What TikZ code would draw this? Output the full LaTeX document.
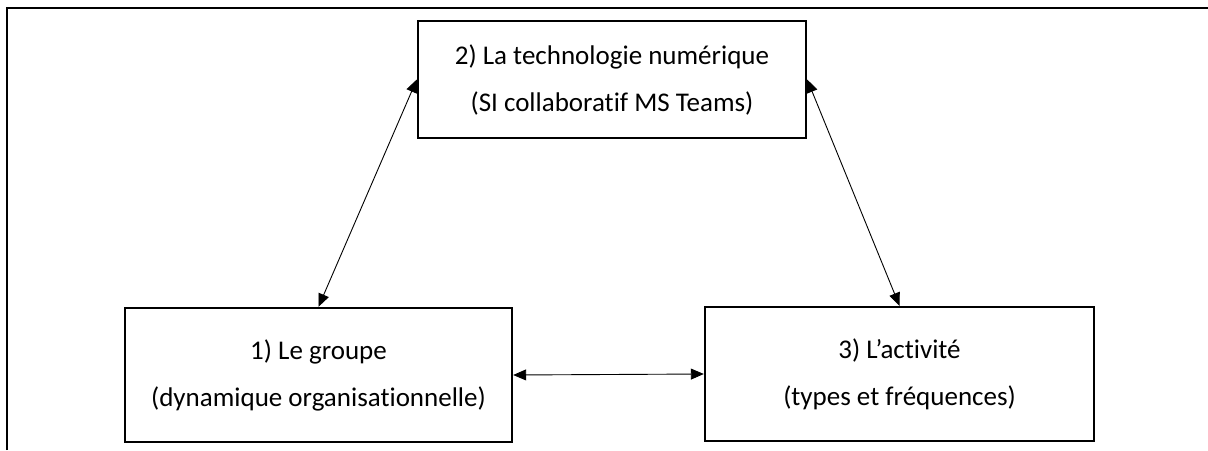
\documentclass[tikz,border=0pt]{standalone}
\usepackage{fontspec}
\setmainfont{Carlito}[Ligatures=NoCommon]
\usetikzlibrary{arrows.meta}

\tikzset{
	boxe/.style={draw, line width=2.4pt, align=center, inner sep=0pt,
		font=\fontsize{27}{47}\selectfont},
	fleche/.style={line width=0.9pt, {Triangle[length=13pt,width=11pt]}-{Triangle[length=13pt,width=11pt]}}
}

\begin{document}
\begin{tikzpicture}[x=1pt,y=-1pt]
				%%%%% START %%%%%
				\def\wtop{388}
				\def\htop{117}
				\def\hlow{134}
				\useasboundingbox (0,0) rectangle (1208,450);

				% cadre
				\draw[line width=2.2pt] (7,450) -- (7,8) -- (1208,8);

				\node[boxe, minimum width=\wtop pt, minimum height=\htop pt] (techno) at (612,79.5)
					{2) La technologie numérique\\(SI collaboratif MS Teams)};
				\node[boxe, minimum width=387pt, minimum height=\hlow pt] (groupe) at (318.5,375)
					{1) Le groupe\\(dynamique organisationnelle)};
				\node[boxe, minimum width=389pt, minimum height=\hlow pt] (activite) at (899.5,374)
					{3) L’activité\\(types et fréquences)};

				\draw[fleche] (techno.west) -- (groupe.north);
				\draw[fleche] (techno.east) -- (activite.north);
				\draw[fleche] (groupe.east) -- (activite.west);
				%%%%% START %%%%%
\end{tikzpicture}
\end{document}
